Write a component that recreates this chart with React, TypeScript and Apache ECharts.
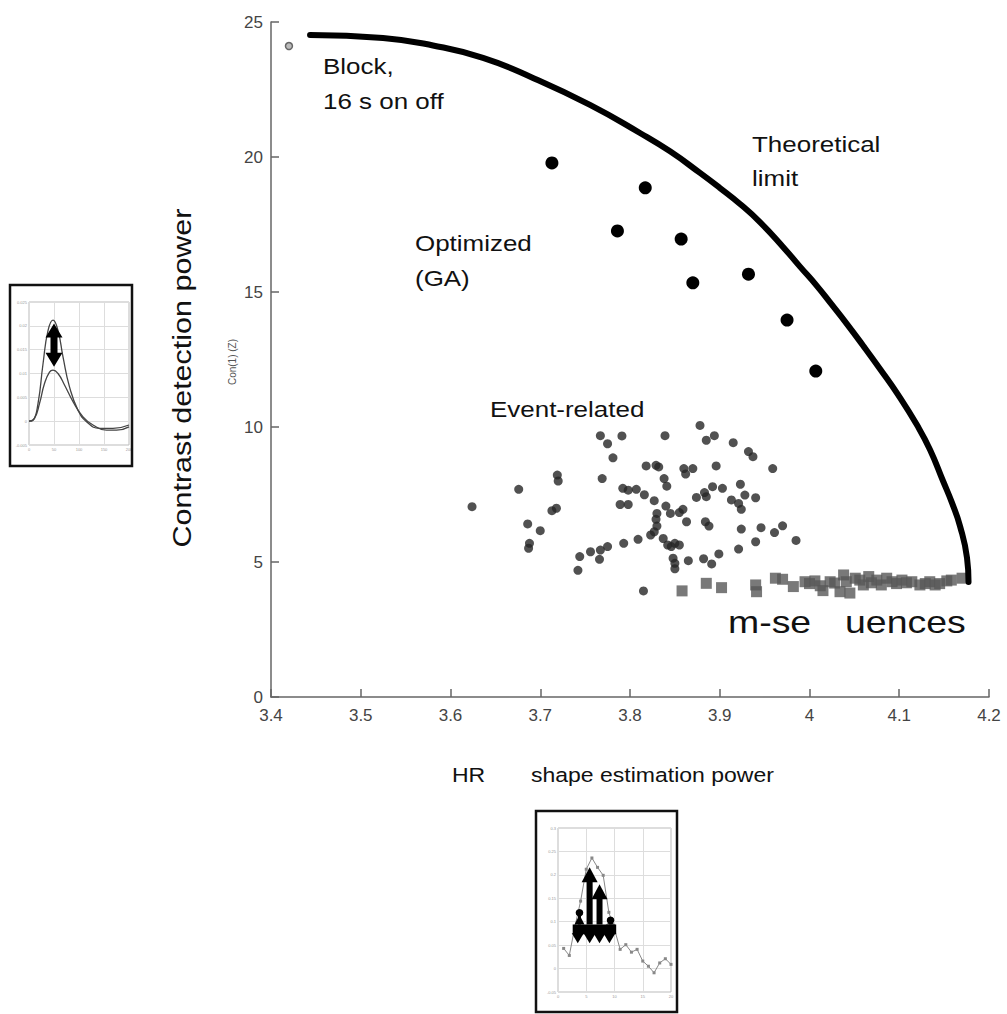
import React, { useEffect, useRef } from "react";
import * as echarts from "echarts";

// ---------------- main chart data ----------------
const theoreticalLimit: number[][] = [
  [3.4435, 24.52], [3.5248, 24.41], [3.5805, 24.13], [3.6362, 23.67], [3.6919, 22.93],
  [3.7554, 21.93], [3.8111, 20.89], [3.8446, 20.21], [3.878, 19.41], [3.9003, 18.85],
  [3.9226, 18.26], [3.9448, 17.59], [3.9705, 16.67], [3.9894, 15.94], [4.0084, 15.22],
  [4.0251, 14.52], [4.0418, 13.81], [4.0596, 13.02], [4.0786, 12.15], [4.0986, 11.2],
  [4.1198, 10.07], [4.1343, 9.16], [4.1488, 8.0], [4.1588, 7.19], [4.1677, 6.33],
  [4.1755, 5.15], [4.1772, 4.26],
];

const blockDesign: number[][] = [[3.42, 24.11]];

const optimizedGA: number[][] = [
  [3.713, 19.78], [3.817, 18.86], [3.786, 17.26], [3.857, 16.96],
  [3.87, 15.34], [3.932, 15.66], [3.975, 13.96], [4.007, 12.07],
];

const eventRelated: number[][] = [
  [3.624, 7.05], [3.676, 7.69], [3.686, 6.41], [3.7, 6.16], [3.688, 5.69], [3.687, 5.51],
  [3.713, 6.9], [3.718, 6.99], [3.719, 8.22], [3.72, 8.0], [3.742, 4.69], [3.744, 5.2],
  [3.756, 5.38], [3.766, 5.1], [3.767, 5.44], [3.775, 5.57], [3.767, 9.68], [3.775, 9.38],
  [3.791, 9.67], [3.781, 8.86], [3.769, 8.09], [3.792, 7.73], [3.798, 7.66], [3.807, 7.69],
  [3.789, 7.13], [3.798, 7.13], [3.793, 5.69], [3.809, 5.84], [3.816, 7.49], [3.818, 8.56],
  [3.829, 8.58], [3.832, 8.52], [3.827, 7.27], [3.839, 9.68], [3.838, 8.09], [3.841, 7.81],
  [3.84, 7.07], [3.83, 6.8], [3.829, 6.58], [3.83, 6.33], [3.823, 6.0], [3.827, 6.12],
  [3.837, 5.87], [3.845, 6.8], [3.855, 6.83], [3.859, 6.95], [3.863, 6.49], [3.842, 5.63],
  [3.846, 5.57], [3.85, 5.69], [3.855, 5.63], [3.848, 5.14], [3.85, 4.95], [3.85, 4.75],
  [3.865, 5.05], [3.815, 3.93], [3.86, 8.46], [3.862, 8.26], [3.87, 8.46], [3.878, 10.06],
  [3.885, 9.51], [3.894, 9.68], [3.896, 8.56], [3.874, 7.39], [3.883, 7.57], [3.885, 7.42],
  [3.892, 7.79], [3.903, 7.73], [3.884, 6.49], [3.888, 6.33], [3.882, 5.12], [3.891, 4.93],
  [3.899, 5.3], [3.915, 9.42], [3.932, 9.09], [3.937, 8.9], [3.923, 7.88], [3.913, 7.3],
  [3.921, 7.17], [3.924, 6.95], [3.928, 7.48], [3.94, 7.38], [3.959, 8.46], [3.924, 6.22],
  [3.946, 6.27], [3.94, 5.75], [3.921, 5.48], [3.961, 6.09], [3.97, 6.34], [3.985, 5.8],
];

const mSequences: number[][] = [
  [3.858, 3.93], [3.885, 4.21], [3.902, 4.05], [3.94, 4.15], [3.941, 3.9], [3.962, 4.4],
  [3.97, 4.36], [3.982, 4.09], [3.995, 4.27], [4.0, 4.2], [4.006, 4.3], [4.012, 4.12],
  [4.015, 3.94], [4.023, 4.27], [4.028, 4.22], [4.034, 3.9], [4.038, 4.52], [4.041, 4.27],
  [4.045, 3.85], [4.051, 4.4], [4.056, 4.33], [4.06, 4.15], [4.066, 4.46], [4.069, 4.23],
  [4.075, 4.33], [4.08, 4.15], [4.086, 4.4], [4.092, 4.27], [4.097, 4.2], [4.103, 4.33],
  [4.108, 4.23], [4.114, 4.27], [4.123, 4.15], [4.129, 4.2], [4.134, 4.27], [4.14, 4.15],
  [4.145, 4.2], [4.153, 4.3], [4.158, 4.33], [4.17, 4.4],
];

// ---------------- inset data ----------------
const hrfUpper: number[][] = [
  [0, 0], [8, 0.0002], [18, 0.0037], [28, 0.012], [38, 0.019], [48, 0.0212], [58, 0.019],
  [68, 0.0135], [81, 0.0072], [98, 0.0023], [115, -0.0001], [141, -0.0015], [168, -0.0015], [200, -0.0008],
];
const hrfLower: number[][] = [
  [0, 0], [11, 0.0006], [21, 0.0037], [31, 0.0079], [41, 0.0103], [48, 0.0107], [58, 0.01],
  [71, 0.0076], [88, 0.0041], [108, 0.0009], [128, -0.0008], [155, -0.0019], [175, -0.0019], [200, -0.0012],
];
const hrfEstimate: number[][] = [
  [1, 0.043], [2, 0.028], [3, 0.09], [4, 0.144], [5, 0.212], [6, 0.236], [7, 0.216], [8, 0.199],
  [9, 0.12], [10, 0.084], [11, 0.041], [12, 0.051], [13, 0.035], [14, 0.041], [15, 0.016],
  [16, 0.005], [17, -0.009], [18, 0.012], [19, 0.021], [20, 0.009],
];
// left inset double arrow: [x, top, bottom]
const leftArrow = [50, 0.0205, 0.0114];
// bottom inset glyph
const upArrows: number[][] = [[5.6, 0.216], [7.35, 0.18]];
const downHeads: number[] = [3.5, 5.6, 7.35, 9.1];
const lollipops: number[][] = [[3.8, 0.119], [9.3, 0.103]];
const barSpan = [2.6, 10.3, 0.094, 0.073];

const FONT = "'Liberation Sans', Arial, Helvetica, sans-serif";
const TICKFONT = "'Liberation Sans Narrow', 'Liberation Sans', Arial, sans-serif";

function txt(text: string, x: number, y: number, size: number, extra: any = {}) {
  return {
    type: "text",
    x,
    y,
    scaleX: extra.scaleX ?? 1.18,
    rotation: extra.rotation ?? 0,
    silent: true,
    z: 20,
    style: {
      text,
      fontSize: size,
      fontFamily: FONT,
      fill: extra.fill ?? "#111",
      align: extra.align ?? "left",
      verticalAlign: "middle",
    },
  };
}

export default function App() {
  const ref = useRef<HTMLDivElement>(null);
  useEffect(() => {
    const chart = echarts.init(ref.current!, null, { renderer: "svg" });
    const insetLabel = { fontSize: 4, color: "#999", fontFamily: FONT, margin: 2 };
    const option: any = {
      animation: false,
      backgroundColor: "#fff",
      grid: [
        { left: 271, right: 18, top: 22, bottom: 317 },
        { left: 29, top: 302, width: 100, height: 143, show: true, borderColor: "#bbb", borderWidth: 1, backgroundColor: "#fff" },
        { left: 558, top: 828, width: 113, height: 164, show: true, borderColor: "#bbb", borderWidth: 1, backgroundColor: "#fff" },
      ],
      xAxis: [
        {
          gridIndex: 0, type: "value", min: 3.4, max: 4.2, interval: 0.1,
          axisLine: { show: true, lineStyle: { color: "#666", width: 1.5 } },
          axisTick: { show: true, inside: true, length: 8, lineStyle: { color: "#666", width: 1.5 } },
          splitLine: { show: false },
          axisLabel: { fontSize: 17, color: "#444", fontFamily: TICKFONT, margin: 10, formatter: (v: number) => String(+v.toFixed(1)) },
        },
        {
          gridIndex: 1, type: "value", min: 0, max: 200, interval: 50,
          axisLine: { show: false }, axisTick: { show: false },
          splitLine: { show: true, lineStyle: { color: "#ddd", width: 1 } },
          axisLabel: insetLabel,
        },
        {
          gridIndex: 2, type: "value", min: 0, max: 20, interval: 5,
          axisLine: { show: false }, axisTick: { show: false },
          splitLine: { show: true, lineStyle: { color: "#ddd", width: 1 } },
          axisLabel: insetLabel,
        },
      ],
      yAxis: [
        {
          gridIndex: 0, type: "value", min: 0, max: 25, interval: 5,
          axisLine: { show: true, lineStyle: { color: "#666", width: 1.5 } },
          axisTick: { show: true, inside: true, length: 8, lineStyle: { color: "#666", width: 1.5 } },
          splitLine: { show: false },
          axisLabel: { fontSize: 17, color: "#444", fontFamily: TICKFONT, margin: 8 },
        },
        {
          gridIndex: 1, type: "value", min: -0.005, max: 0.025, interval: 0.005,
          axisLine: { show: false }, axisTick: { show: false },
          splitLine: { show: true, lineStyle: { color: "#ddd", width: 1 } },
          axisLabel: insetLabel,
        },
        {
          gridIndex: 2, type: "value", min: -0.05, max: 0.3, interval: 0.05,
          axisLine: { show: false }, axisTick: { show: false },
          splitLine: { show: true, lineStyle: { color: "#ddd", width: 1 } },
          axisLabel: insetLabel,
        },
      ],
      series: [
        {
          name: "Event-related", type: "scatter", data: eventRelated, symbol: "circle", symbolSize: 9,
          itemStyle: { color: "#262626" }, xAxisIndex: 0, yAxisIndex: 0,
        },
        {
          name: "m-sequences", type: "scatter", data: mSequences, symbol: "rect", symbolSize: 11,
          itemStyle: { color: "#585858" }, xAxisIndex: 0, yAxisIndex: 0,
        },
        {
          name: "Optimized (GA)", type: "scatter", data: optimizedGA, symbol: "circle", symbolSize: 13,
          itemStyle: { color: "#000", opacity: 1 }, xAxisIndex: 0, yAxisIndex: 0,
        },
        {
          name: "Block", type: "scatter", data: blockDesign, symbol: "circle", symbolSize: 7,
          itemStyle: { color: "#bbb", borderColor: "#666", borderWidth: 1.5, opacity: 1 }, xAxisIndex: 0, yAxisIndex: 0,
        },
        {
          name: "Theoretical limit", type: "line", data: theoreticalLimit, smooth: 0.5,
          showSymbol: false, symbol: "none", lineStyle: { color: "#000", width: 6, cap: "round", join: "round" },
          xAxisIndex: 0, yAxisIndex: 0, z: 5,
        },
        {
          type: "line", data: hrfUpper, smooth: true, symbol: "none", xAxisIndex: 1, yAxisIndex: 1,
          lineStyle: { color: "#444", width: 1.3 },
        },
        {
          type: "line", data: hrfLower, smooth: true, symbol: "none", xAxisIndex: 1, yAxisIndex: 1,
          lineStyle: { color: "#444", width: 1.3 },
        },
        {
          type: "custom", xAxisIndex: 1, yAxisIndex: 1, data: [[leftArrow[0], leftArrow[1]]], z: 6,
          renderItem: (_p: any, api: any) => {
            const t = api.coord([leftArrow[0], leftArrow[1]]);
            const b = api.coord([leftArrow[0], leftArrow[2]]);
            const cx = t[0], hw = 8.5, hh = 14, sw = 3.5;
            return {
              type: "polygon",
              shape: {
                points: [
                  [cx, t[1]], [cx + hw, t[1] + hh], [cx + sw, t[1] + hh], [cx + sw, b[1] - hh],
                  [cx + hw, b[1] - hh], [cx, b[1]], [cx - hw, b[1] - hh], [cx - sw, b[1] - hh],
                  [cx - sw, t[1] + hh], [cx - hw, t[1] + hh],
                ],
              },
              style: { fill: "#000" },
            };
          },
        },
        {
          type: "line", data: hrfEstimate, smooth: false, symbol: "rect", symbolSize: 3, showSymbol: true,
          xAxisIndex: 2, yAxisIndex: 2, lineStyle: { color: "#888", width: 1 }, itemStyle: { color: "#888" },
        },
        {
          type: "custom", xAxisIndex: 2, yAxisIndex: 2, data: [[barSpan[0], barSpan[2]]], z: 6,
          renderItem: (_p: any, api: any) => {
            const children: any[] = [];
            const a = api.coord([barSpan[0], barSpan[2]]);
            const b = api.coord([barSpan[1], barSpan[3]]);
            children.push({ type: "rect", shape: { x: a[0], y: a[1], width: b[0] - a[0], height: b[1] - a[1] }, style: { fill: "#000" } });
            downHeads.forEach((x) => {
              const p = api.coord([x, barSpan[3]]);
              children.push({ type: "polygon", shape: { points: [[p[0] - 6, p[1] - 1], [p[0] + 6, p[1] - 1], [p[0], p[1] + 9]] }, style: { fill: "#000" } });
            });
            upArrows.forEach(([x, tip]) => {
              const t = api.coord([x, tip]);
              const base = api.coord([x, barSpan[2]]);
              children.push({ type: "rect", shape: { x: t[0] - 3, y: t[1] + 12, width: 6, height: base[1] - t[1] - 12 }, style: { fill: "#000" } });
              children.push({ type: "polygon", shape: { points: [[t[0], t[1]], [t[0] + 8, t[1] + 15], [t[0] - 8, t[1] + 15]] }, style: { fill: "#000" } });
            });
            lollipops.forEach(([x, y]) => {
              const c = api.coord([x, y]);
              const base = api.coord([x, barSpan[2]]);
              children.push({ type: "rect", shape: { x: c[0] - 1.5, y: c[1], width: 3, height: base[1] - c[1] }, style: { fill: "#000" } });
              children.push({ type: "polygon", shape: { points: [[c[0], c[1] + 2], [c[0] + 5, base[1]], [c[0] - 5, base[1]]] }, style: { fill: "#000" } });
              children.push({ type: "circle", shape: { cx: c[0], cy: c[1], r: 3.8 }, style: { fill: "#000" } });
            });
            return { type: "group", children };
          },
        },
      ],
      graphic: [
        { type: "rect", silent: true, z: 1, shape: { x: 10, y: 285, width: 122, height: 181 }, style: { fill: "none", stroke: "#111", lineWidth: 2.5 } },
        { type: "rect", silent: true, z: 1, shape: { x: 536, y: 811, width: 141, height: 201 }, style: { fill: "none", stroke: "#111", lineWidth: 2.5 } },
        txt("Block,", 323, 66, 22),
        txt("16 s on off", 323, 101, 22),
        txt("Theoretical", 752, 144, 22),
        txt("limit", 752, 178, 22),
        txt("Optimized", 415, 243, 22),
        txt("(GA)", 415, 278, 22),
        txt("Event-related", 490, 409, 22),
        txt("m-se", 728, 622, 32, { scaleX: 1.17 }),
        txt("uences", 845, 622, 32, { scaleX: 1.17 }),
        txt("HR", 452, 776, 19.5),
        txt("shape estimation power", 531, 776, 19.5),
        txt("Contrast detection power", 182, 378, 25, { rotation: Math.PI / 2, align: "center", scaleX: 1.22 }),
        txt("Con(1) (Z)", 232, 362, 10, { rotation: Math.PI / 2, align: "center", fill: "#555", scaleX: 1 }),
      ],
    };
    chart.setOption(option);
    return () => chart.dispose();
  }, []);
  return (
    <div
      ref={ref}
      style={{ position: "fixed", left: 0, top: 0, width: 1007, height: 1014, background: "#fff" }}
    />
  );
}
